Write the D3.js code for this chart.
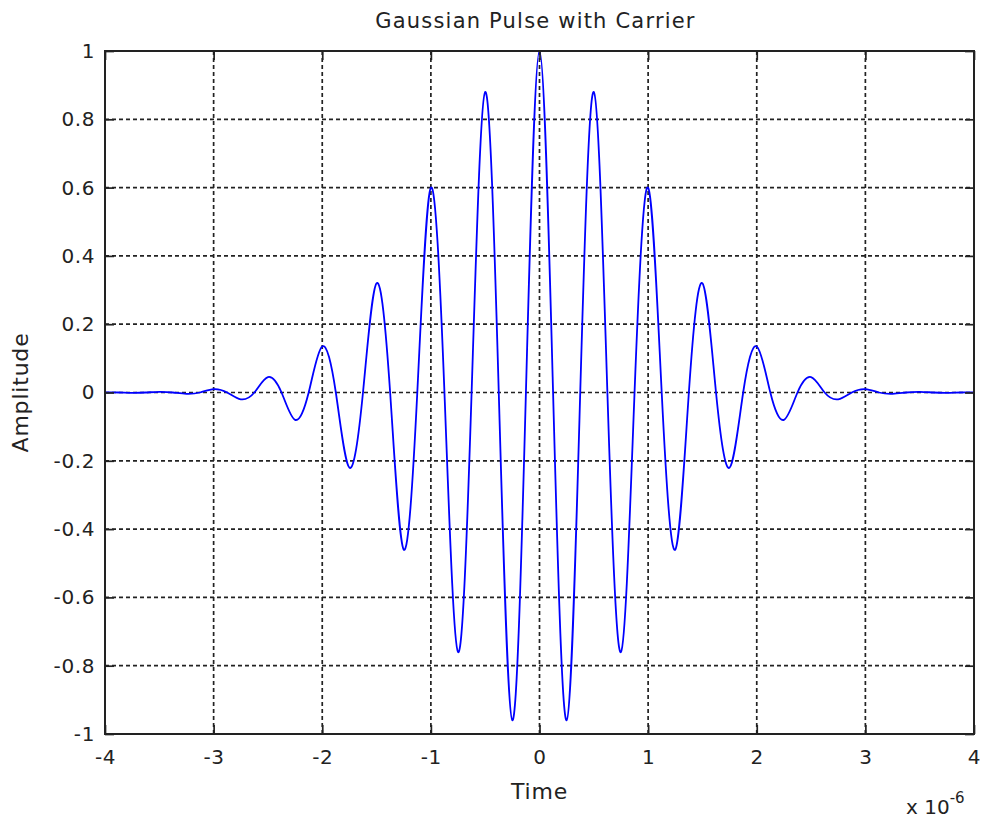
<!DOCTYPE html>
<html>
<head>
<meta charset="utf-8">
<script src="https://cdn.jsdelivr.net/npm/d3@7"></script>
<style>
  html, body { margin: 0; padding: 0; background: #fff; }
  text { font-family: "DejaVu Sans", "Liberation Sans", Arial, sans-serif; fill: #222; }
</style>
</head>
<body>
<svg id="chart" width="986" height="822"></svg>
<script>
// Time samples (units of 1e-6 s)
const timeUs = [
  -4, -3.875, -3.75, -3.625, -3.5, -3.375, -3.25, -3.125,
  -3, -2.875, -2.75, -2.625, -2.5, -2.375, -2.25, -2.125,
  -2, -1.875, -1.75, -1.625, -1.5, -1.375, -1.25, -1.125,
  -1, -0.875, -0.75, -0.625, -0.5, -0.375, -0.25, -0.125,
  0, 0.125, 0.25, 0.375, 0.5, 0.625, 0.75, 0.875,
  1, 1.125, 1.25, 1.375, 1.5, 1.625, 1.75, 1.875,
  2, 2.125, 2.25, 2.375, 2.5, 2.625, 2.75, 2.875,
  3, 3.125, 3.25, 3.375, 3.5, 3.625, 3.75, 3.875, 4
];
const amplitude = [
  0, 0, -0.001, 0, 0.002, 0, -0.004, 0,
  0.01, 0, -0.02, 0, 0.045, 0, -0.08, 0,
  0.135, 0, -0.22, 0, 0.32, 0, -0.46, 0,
  0.6, 0, -0.76, 0, 0.88, 0, -0.96, 0,
  1, 0, -0.96, 0, 0.88, 0, -0.76, 0,
  0.6, 0, -0.46, 0, 0.32, 0, -0.22, 0,
  0.135, 0, -0.08, 0, 0.045, 0, -0.02, 0,
  0.01, 0, -0.004, 0, 0.002, 0, -0.001, 0, 0
];
const xTicks = [-4, -3, -2, -1, 0, 1, 2, 3, 4];
const yTicks = [-1, -0.8, -0.6, -0.4, -0.2, 0, 0.2, 0.4, 0.6, 0.8, 1];
const titleText = "Gaussian Pulse with Carrier";
const xLabel = "Time";
const yLabel = "Amplitude";

const svg = d3.select("#chart");
const L = 105, R = 974, T = 51, B = 734;

const x = d3.scaleLinear().domain([-4, 4]).range([L, R]);
const y = d3.scaleLinear().domain([-1, 1]).range([B, T]);

const ink = "#222";

// grid
const grid = svg.append("g");
grid.selectAll("line.gx").data(xTicks.slice(1, -1)).enter().append("line")
  .attr("x1", d => x(d)).attr("x2", d => x(d)).attr("y1", T).attr("y2", B)
  .attr("stroke", ink).attr("stroke-width", 1.7).attr("stroke-dasharray", "4,3");
grid.selectAll("line.gy").data(yTicks.slice(1, -1)).enter().append("line")
  .attr("y1", d => y(d)).attr("y2", d => y(d)).attr("x1", L).attr("x2", R)
  .attr("stroke", ink).attr("stroke-width", 1.7).attr("stroke-dasharray", "4,3");

// data line
const line = d3.line()
  .x((d, i) => x(timeUs[i]))
  .y(d => y(d))
  .curve(d3.curveNatural);
svg.append("path")
  .datum(amplitude)
  .attr("d", line)
  .attr("fill", "none")
  .attr("stroke", "#0000ff")
  .attr("stroke-width", 1.8);

// axes
const fontSize = 20;
const fmt = d => String(d);
const axB = svg.append("g").attr("transform", `translate(0,${B})`)
  .call(d3.axisBottom(x).tickValues(xTicks).tickSizeInner(-9).tickSizeOuter(0).tickPadding(16).tickFormat(fmt));
const axT = svg.append("g").attr("transform", `translate(0,${T})`)
  .call(d3.axisTop(x).tickValues(xTicks).tickSizeInner(-9).tickSizeOuter(0).tickFormat(""));
const axL = svg.append("g").attr("transform", `translate(${L},0)`)
  .call(d3.axisLeft(y).tickValues(yTicks).tickSizeInner(-9).tickSizeOuter(0).tickPadding(10).tickFormat(fmt));
const axR = svg.append("g").attr("transform", `translate(${R},0)`)
  .call(d3.axisRight(y).tickValues(yTicks).tickSizeInner(-9).tickSizeOuter(0).tickFormat(""));

[axB, axT, axL, axR].forEach(a => {
  a.select(".domain").remove();
  a.selectAll(".tick line").attr("stroke", ink).attr("stroke-width", 1.7);
  a.selectAll("text").attr("font-size", fontSize).attr("fill", ink)
    .attr("font-family", "DejaVu Sans, Liberation Sans, Arial, sans-serif")
    .style("letter-spacing", "0.6px");
});

// box
svg.append("rect").attr("x", L).attr("y", T).attr("width", R - L).attr("height", B - T)
  .attr("fill", "none").attr("stroke", ink).attr("stroke-width", 2);

// title
svg.append("text").attr("x", (L + R) / 2 - 4).attr("y", 28).attr("text-anchor", "middle")
  .attr("font-size", 21).style("letter-spacing", "1.2px").text(titleText);
// x label
svg.append("text").attr("x", (L + R) / 2).attr("y", 799).attr("text-anchor", "middle")
  .attr("font-size", 22).style("letter-spacing", "0.8px").text(xLabel);
// y label
svg.append("text").attr("transform", `translate(28,${(T + B) / 2}) rotate(-90)`)
  .attr("text-anchor", "middle").attr("font-size", 22).style("letter-spacing", "0.8px").text(yLabel);
// exponent
const ex = svg.append("text").attr("x", 906).attr("y", 814).attr("font-size", 20);
ex.append("tspan").text("x 10");
ex.append("tspan").attr("dy", -11).attr("font-size", 15).text("-6");
</script>
</body>
</html>
